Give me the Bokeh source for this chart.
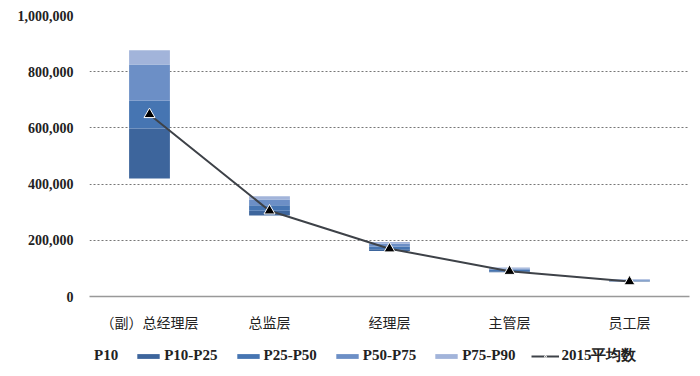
from bokeh.plotting import figure
from bokeh.layouts import column
from bokeh.models import (ColumnDataSource, Legend, LegendItem, FixedTicker,
                          NumeralTickFormatter, Range1d, FactorRange)
from bokeh.embed import file_html
from bokeh.resources import INLINE

categories = ["（副）总经理层", "总监层", "经理层", "主管层", "员工层"]
p10 = [420000, 288000, 162000, 86000, 53000]
p25 = [598000, 305000, 168000, 90000, 55000]
p50 = [697000, 325000, 178000, 95000, 57000]
p75 = [826000, 345000, 188000, 100000, 59000]
p90 = [876000, 357000, 194000, 103000, 61000]
avg2015 = [648000, 305000, 170000, 90000, 53000]
y_ticks = [0, 200000, 400000, 600000, 800000, 1000000]
legend_labels = ["P10", "P10-P25", "P25-P50", "P50-P75", "P75-P90", "2015平均数"]

band_colors = ["#3d659c", "#4675b2", "#6c8fc6", "#a2b4da"]

src = ColumnDataSource(dict(cat=categories, p10=p10, p25=p25, p50=p50,
                            p75=p75, p90=p90, avg=avg2015,
                            zero=[0] * len(categories)))
# legend-only source: same rows, no drawable values
nan_col = [float("nan")] * len(categories)
legend_src = ColumnDataSource(dict(cat=categories, p10=nan_col, p25=nan_col,
                                   p50=nan_col, p75=nan_col, p90=nan_col,
                                   avg=nan_col, zero=nan_col))


def draw(fig, source):
    bw = 0.34
    rs = [fig.vbar(x="cat", bottom="zero", top="p10", width=bw, source=source,
                   fill_alpha=0, line_alpha=0)]
    for (b, t), c in zip([("p10", "p25"), ("p25", "p50"), ("p50", "p75"),
                          ("p75", "p90")], band_colors):
        rs.append(fig.vbar(x="cat", bottom=b, top=t, width=bw, source=source,
                           fill_color=c, line_color=None))
    rl = fig.line(x="cat", y="avg", source=source, line_color="#3e4248",
                  line_width=2)
    rm = fig.scatter(x="cat", y="avg", source=source, marker="triangle",
                     size=11, fill_color="black", line_color="white",
                     line_width=1)
    return rs, rl, rm


p = figure(x_range=FactorRange(*categories, range_padding=0),
           y_range=Range1d(0, 1000000),
           width=691, height=337,
           output_backend="svg", toolbar_location=None,
           min_border_left=89, min_border_right=2, min_border_top=15,
           min_border_bottom=41)
p.outline_line_color = None
draw(p, src)

p.yaxis.ticker = FixedTicker(ticks=y_ticks)
p.yaxis.formatter = NumeralTickFormatter(format="0,0")
p.yaxis.axis_line_color = None
p.yaxis.major_tick_line_color = None
p.yaxis.minor_tick_line_color = None
p.yaxis.major_label_text_font = "Liberation Serif"
p.yaxis.major_label_text_font_style = "bold"
p.yaxis.major_label_text_font_size = "14px"
p.yaxis.major_label_text_color = "#222222"
p.yaxis.major_label_standoff = 10

p.xaxis.axis_line_color = "#999999"
p.xaxis.axis_line_width = 1.5
p.xaxis.major_tick_line_color = None
p.xaxis.minor_tick_line_color = None
p.xaxis.major_tick_out = 0
p.xaxis.major_tick_in = 0
p.xaxis.major_label_text_font = "Noto Sans CJK SC"
p.xaxis.major_label_text_font_size = "14px"
p.xaxis.major_label_text_color = "#222222"
p.xaxis.major_label_standoff = 15

p.xgrid.grid_line_color = None
p.ygrid.grid_line_color = "#777777"
p.ygrid.grid_line_dash = "2 2"
p.ygrid.grid_line_width = 1

# legend strip
lg = figure(x_range=FactorRange(*categories, range_padding=0),
            y_range=Range1d(0, 1), width=691, height=30,
            output_backend="svg", toolbar_location=None,
            x_axis_type=None, y_axis_type=None,
            min_border_left=0, min_border_right=0, min_border_top=0,
            min_border_bottom=0)
lg.outline_line_color = None
lg.xgrid.grid_line_color = None
lg.ygrid.grid_line_color = None
rs, rl, rm = draw(lg, legend_src)

items = [LegendItem(label=legend_labels[i], renderers=[rs[i]]) for i in range(5)]
items.append(LegendItem(label=legend_labels[5], renderers=[rl, rm]))
legend = Legend(items=items, orientation="horizontal", location=(-25, 2))
legend.border_line_color = None
legend.background_fill_alpha = 0
legend.label_text_font = "Liberation Serif"
legend.label_text_font_style = "bold"
legend.label_text_font_size = "15px"
legend.label_text_color = "#222222"
legend.label_height = 16
legend.glyph_width = 28
legend.glyph_height = 6
legend.label_standoff = 2
legend.spacing = 16
legend.padding = 2
legend.margin = 0
lg.add_layout(legend, "center")

layout = column(p, lg, spacing=0)
open("out.html", "w").write(file_html(layout, INLINE))
